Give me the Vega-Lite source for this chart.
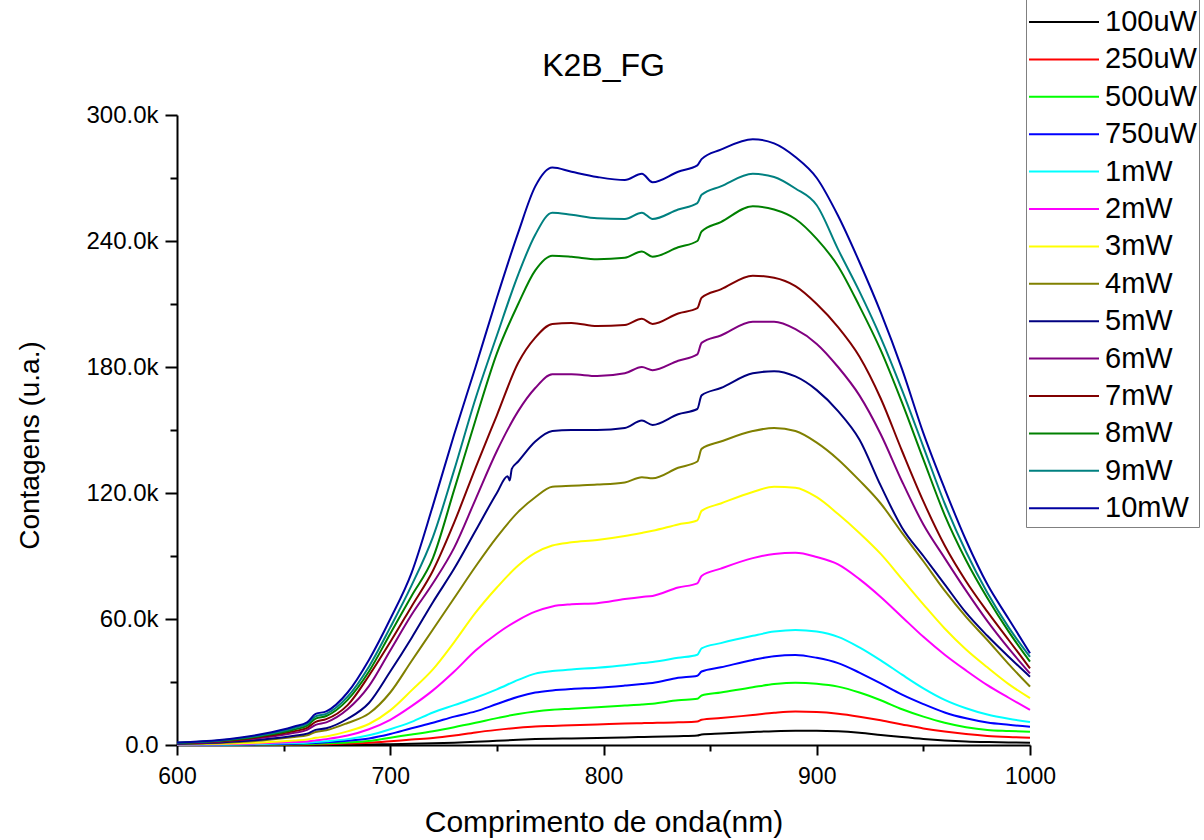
{
  "$schema": "https://vega.github.io/schema/vega-lite/v6.json",
  "width": 853,
  "height": 630,
  "autosize": {"type": "none"},
  "padding": {"left": 177, "top": 115, "right": 174, "bottom": 95},
  "background": "white",
  "config": {"view": {"stroke": null}, "font": "Liberation Sans"},
  "title": {"text": "K2B_FG", "fontSize": 32, "font": "Liberation Sans", "fontWeight": "normal", "color": "#000", "anchor": "middle", "frame": "group", "offset": -124, "baseline": "alphabetic"},
  "datasets": {
    "spectra": [
{"p":"100uW","nm":600,"k":0},{"p":"100uW","nm":620,"k":0},{"p":"100uW","nm":640,"k":0.02},{"p":"100uW","nm":655,"k":0.05},{"p":"100uW","nm":661,"k":0.07},{"p":"100uW","nm":665,"k":0.09},{"p":"100uW","nm":670,"k":0.1},{"p":"100uW","nm":680,"k":0.15},{"p":"100uW","nm":690,"k":0.25},{"p":"100uW","nm":700,"k":0.4},{"p":"100uW","nm":710,"k":0.6},{"p":"100uW","nm":720,"k":0.8},{"p":"100uW","nm":730,"k":1.1},{"p":"100uW","nm":740,"k":1.5},{"p":"100uW","nm":750,"k":2},{"p":"100uW","nm":760,"k":2.5},{"p":"100uW","nm":768,"k":2.8},{"p":"100uW","nm":776,"k":3},{"p":"100uW","nm":785,"k":3.1},{"p":"100uW","nm":797,"k":3.3},{"p":"100uW","nm":810,"k":3.6},{"p":"100uW","nm":818,"k":3.8},{"p":"100uW","nm":823,"k":3.9},{"p":"100uW","nm":835,"k":4.2},{"p":"100uW","nm":844,"k":4.5},{"p":"100uW","nm":846,"k":5},{"p":"100uW","nm":855,"k":5.5},{"p":"100uW","nm":870,"k":6.2},{"p":"100uW","nm":880,"k":6.6},{"p":"100uW","nm":890,"k":6.8},{"p":"100uW","nm":900,"k":6.8},{"p":"100uW","nm":910,"k":6.5},{"p":"100uW","nm":920,"k":5.8},{"p":"100uW","nm":930,"k":4.8},{"p":"100uW","nm":940,"k":3.8},{"p":"100uW","nm":950,"k":2.9},{"p":"100uW","nm":960,"k":2.2},{"p":"100uW","nm":970,"k":1.7},{"p":"100uW","nm":980,"k":1.4},{"p":"100uW","nm":990,"k":1.2},{"p":"100uW","nm":1000,"k":1.1},
{"p":"250uW","nm":600,"k":0},{"p":"250uW","nm":620,"k":0.05},{"p":"250uW","nm":640,"k":0.1},{"p":"250uW","nm":655,"k":0.2},{"p":"250uW","nm":661,"k":0.25},{"p":"250uW","nm":665,"k":0.3},{"p":"250uW","nm":670,"k":0.4},{"p":"250uW","nm":680,"k":0.7},{"p":"250uW","nm":690,"k":1.1},{"p":"250uW","nm":700,"k":1.8},{"p":"250uW","nm":710,"k":2.6},{"p":"250uW","nm":720,"k":3.3},{"p":"250uW","nm":730,"k":4.5},{"p":"250uW","nm":740,"k":6},{"p":"250uW","nm":750,"k":7.2},{"p":"250uW","nm":760,"k":8.2},{"p":"250uW","nm":768,"k":8.8},{"p":"250uW","nm":776,"k":9.1},{"p":"250uW","nm":785,"k":9.4},{"p":"250uW","nm":797,"k":9.8},{"p":"250uW","nm":810,"k":10.2},{"p":"250uW","nm":818,"k":10.4},{"p":"250uW","nm":823,"k":10.5},{"p":"250uW","nm":835,"k":10.8},{"p":"250uW","nm":844,"k":11.2},{"p":"250uW","nm":846,"k":12},{"p":"250uW","nm":855,"k":12.8},{"p":"250uW","nm":870,"k":14.3},{"p":"250uW","nm":880,"k":15.3},{"p":"250uW","nm":890,"k":15.9},{"p":"250uW","nm":900,"k":15.7},{"p":"250uW","nm":910,"k":14.9},{"p":"250uW","nm":920,"k":13.5},{"p":"250uW","nm":930,"k":11.8},{"p":"250uW","nm":940,"k":9.8},{"p":"250uW","nm":950,"k":7.9},{"p":"250uW","nm":960,"k":6.4},{"p":"250uW","nm":970,"k":5.2},{"p":"250uW","nm":980,"k":4.3},{"p":"250uW","nm":990,"k":3.8},{"p":"250uW","nm":1000,"k":3.5},
{"p":"500uW","nm":600,"k":0.05},{"p":"500uW","nm":620,"k":0.1},{"p":"500uW","nm":640,"k":0.2},{"p":"500uW","nm":655,"k":0.35},{"p":"500uW","nm":661,"k":0.45},{"p":"500uW","nm":665,"k":0.6},{"p":"500uW","nm":670,"k":0.8},{"p":"500uW","nm":680,"k":1.2},{"p":"500uW","nm":690,"k":1.9},{"p":"500uW","nm":700,"k":3.5},{"p":"500uW","nm":710,"k":5},{"p":"500uW","nm":720,"k":6.6},{"p":"500uW","nm":730,"k":8.5},{"p":"500uW","nm":740,"k":10.6},{"p":"500uW","nm":750,"k":12.8},{"p":"500uW","nm":760,"k":14.8},{"p":"500uW","nm":768,"k":16},{"p":"500uW","nm":776,"k":16.8},{"p":"500uW","nm":785,"k":17.3},{"p":"500uW","nm":797,"k":18},{"p":"500uW","nm":810,"k":18.8},{"p":"500uW","nm":818,"k":19.3},{"p":"500uW","nm":823,"k":19.7},{"p":"500uW","nm":835,"k":21.3},{"p":"500uW","nm":844,"k":22},{"p":"500uW","nm":846,"k":23.6},{"p":"500uW","nm":855,"k":25},{"p":"500uW","nm":870,"k":27.5},{"p":"500uW","nm":880,"k":29},{"p":"500uW","nm":890,"k":29.7},{"p":"500uW","nm":900,"k":29.2},{"p":"500uW","nm":910,"k":27.8},{"p":"500uW","nm":920,"k":25},{"p":"500uW","nm":930,"k":21.3},{"p":"500uW","nm":940,"k":17},{"p":"500uW","nm":950,"k":13.5},{"p":"500uW","nm":960,"k":10.6},{"p":"500uW","nm":970,"k":8.5},{"p":"500uW","nm":980,"k":7.2},{"p":"500uW","nm":990,"k":6.7},{"p":"500uW","nm":1000,"k":6.3},
{"p":"750uW","nm":600,"k":0.1},{"p":"750uW","nm":620,"k":0.15},{"p":"750uW","nm":640,"k":0.3},{"p":"750uW","nm":655,"k":0.6},{"p":"750uW","nm":661,"k":0.8},{"p":"750uW","nm":665,"k":1},{"p":"750uW","nm":670,"k":1.3},{"p":"750uW","nm":680,"k":2},{"p":"750uW","nm":690,"k":3.1},{"p":"750uW","nm":700,"k":5.2},{"p":"750uW","nm":710,"k":8},{"p":"750uW","nm":720,"k":10.6},{"p":"750uW","nm":730,"k":13.5},{"p":"750uW","nm":740,"k":16},{"p":"750uW","nm":750,"k":19.5},{"p":"750uW","nm":760,"k":23},{"p":"750uW","nm":768,"k":25},{"p":"750uW","nm":776,"k":26},{"p":"750uW","nm":785,"k":26.7},{"p":"750uW","nm":797,"k":27.3},{"p":"750uW","nm":810,"k":28.3},{"p":"750uW","nm":818,"k":29},{"p":"750uW","nm":823,"k":29.5},{"p":"750uW","nm":835,"k":32},{"p":"750uW","nm":844,"k":33},{"p":"750uW","nm":846,"k":35},{"p":"750uW","nm":855,"k":37},{"p":"750uW","nm":870,"k":40.5},{"p":"750uW","nm":880,"k":42.3},{"p":"750uW","nm":890,"k":42.9},{"p":"750uW","nm":900,"k":41.5},{"p":"750uW","nm":910,"k":39},{"p":"750uW","nm":920,"k":34.5},{"p":"750uW","nm":930,"k":29.3},{"p":"750uW","nm":940,"k":24},{"p":"750uW","nm":950,"k":19.5},{"p":"750uW","nm":960,"k":15.5},{"p":"750uW","nm":970,"k":12.7},{"p":"750uW","nm":980,"k":10.7},{"p":"750uW","nm":990,"k":9.6},{"p":"750uW","nm":1000,"k":8.7},
{"p":"1mW","nm":600,"k":0.1},{"p":"1mW","nm":620,"k":0.2},{"p":"1mW","nm":640,"k":0.5},{"p":"1mW","nm":655,"k":0.9},{"p":"1mW","nm":661,"k":1.1},{"p":"1mW","nm":665,"k":1.4},{"p":"1mW","nm":670,"k":1.8},{"p":"1mW","nm":680,"k":2.8},{"p":"1mW","nm":690,"k":4.6},{"p":"1mW","nm":700,"k":7.5},{"p":"1mW","nm":710,"k":11},{"p":"1mW","nm":720,"k":15.5},{"p":"1mW","nm":730,"k":19},{"p":"1mW","nm":740,"k":22.5},{"p":"1mW","nm":750,"k":26.5},{"p":"1mW","nm":760,"k":31},{"p":"1mW","nm":768,"k":34},{"p":"1mW","nm":776,"k":35.2},{"p":"1mW","nm":785,"k":36},{"p":"1mW","nm":797,"k":36.8},{"p":"1mW","nm":810,"k":38},{"p":"1mW","nm":818,"k":39},{"p":"1mW","nm":823,"k":39.5},{"p":"1mW","nm":835,"k":41.5},{"p":"1mW","nm":844,"k":43},{"p":"1mW","nm":846,"k":46},{"p":"1mW","nm":855,"k":48.5},{"p":"1mW","nm":870,"k":52},{"p":"1mW","nm":880,"k":54},{"p":"1mW","nm":890,"k":54.8},{"p":"1mW","nm":900,"k":54},{"p":"1mW","nm":910,"k":51.5},{"p":"1mW","nm":920,"k":46.5},{"p":"1mW","nm":930,"k":40.3},{"p":"1mW","nm":940,"k":33.5},{"p":"1mW","nm":950,"k":27},{"p":"1mW","nm":960,"k":21.5},{"p":"1mW","nm":970,"k":17.5},{"p":"1mW","nm":980,"k":14.5},{"p":"1mW","nm":990,"k":12.5},{"p":"1mW","nm":1000,"k":11},
{"p":"2mW","nm":600,"k":0.2},{"p":"2mW","nm":620,"k":0.4},{"p":"2mW","nm":640,"k":0.8},{"p":"2mW","nm":655,"k":1.4},{"p":"2mW","nm":661,"k":1.7},{"p":"2mW","nm":665,"k":2.2},{"p":"2mW","nm":670,"k":2.8},{"p":"2mW","nm":680,"k":4.5},{"p":"2mW","nm":690,"k":7.5},{"p":"2mW","nm":700,"k":12},{"p":"2mW","nm":710,"k":18.5},{"p":"2mW","nm":720,"k":26},{"p":"2mW","nm":730,"k":35},{"p":"2mW","nm":740,"k":45},{"p":"2mW","nm":750,"k":53},{"p":"2mW","nm":760,"k":59.5},{"p":"2mW","nm":768,"k":63.5},{"p":"2mW","nm":776,"k":66},{"p":"2mW","nm":785,"k":67},{"p":"2mW","nm":797,"k":67.5},{"p":"2mW","nm":810,"k":69.5},{"p":"2mW","nm":818,"k":70.5},{"p":"2mW","nm":823,"k":71},{"p":"2mW","nm":835,"k":75},{"p":"2mW","nm":844,"k":77},{"p":"2mW","nm":846,"k":80.5},{"p":"2mW","nm":855,"k":84},{"p":"2mW","nm":870,"k":89},{"p":"2mW","nm":880,"k":91},{"p":"2mW","nm":890,"k":91.5},{"p":"2mW","nm":900,"k":89.5},{"p":"2mW","nm":910,"k":86},{"p":"2mW","nm":920,"k":79},{"p":"2mW","nm":930,"k":70.5},{"p":"2mW","nm":940,"k":61},{"p":"2mW","nm":950,"k":51.5},{"p":"2mW","nm":960,"k":43},{"p":"2mW","nm":970,"k":35.5},{"p":"2mW","nm":980,"k":28.5},{"p":"2mW","nm":990,"k":22.5},{"p":"2mW","nm":1000,"k":16.7},
{"p":"3mW","nm":600,"k":0.3},{"p":"3mW","nm":620,"k":0.6},{"p":"3mW","nm":640,"k":1.2},{"p":"3mW","nm":655,"k":2.1},{"p":"3mW","nm":661,"k":2.6},{"p":"3mW","nm":665,"k":3.4},{"p":"3mW","nm":670,"k":4.1},{"p":"3mW","nm":680,"k":6.5},{"p":"3mW","nm":690,"k":10},{"p":"3mW","nm":700,"k":16.5},{"p":"3mW","nm":710,"k":26},{"p":"3mW","nm":720,"k":36},{"p":"3mW","nm":730,"k":49},{"p":"3mW","nm":740,"k":63},{"p":"3mW","nm":750,"k":75},{"p":"3mW","nm":760,"k":85.5},{"p":"3mW","nm":768,"k":91.5},{"p":"3mW","nm":776,"k":95},{"p":"3mW","nm":785,"k":96.5},{"p":"3mW","nm":797,"k":97.6},{"p":"3mW","nm":810,"k":99.5},{"p":"3mW","nm":818,"k":101},{"p":"3mW","nm":823,"k":102},{"p":"3mW","nm":835,"k":105},{"p":"3mW","nm":844,"k":107},{"p":"3mW","nm":846,"k":111.5},{"p":"3mW","nm":855,"k":115},{"p":"3mW","nm":870,"k":120.5},{"p":"3mW","nm":880,"k":123},{"p":"3mW","nm":890,"k":122.5},{"p":"3mW","nm":900,"k":118},{"p":"3mW","nm":910,"k":110},{"p":"3mW","nm":920,"k":101},{"p":"3mW","nm":930,"k":91},{"p":"3mW","nm":940,"k":79},{"p":"3mW","nm":950,"k":67},{"p":"3mW","nm":960,"k":55.5},{"p":"3mW","nm":970,"k":45.5},{"p":"3mW","nm":980,"k":37},{"p":"3mW","nm":990,"k":29},{"p":"3mW","nm":1000,"k":22.3},
{"p":"4mW","nm":600,"k":0.5},{"p":"4mW","nm":620,"k":1},{"p":"4mW","nm":640,"k":2.2},{"p":"4mW","nm":655,"k":3.8},{"p":"4mW","nm":661,"k":4.6},{"p":"4mW","nm":665,"k":6.2},{"p":"4mW","nm":670,"k":7},{"p":"4mW","nm":680,"k":10.5},{"p":"4mW","nm":690,"k":15},{"p":"4mW","nm":700,"k":25},{"p":"4mW","nm":710,"k":40},{"p":"4mW","nm":720,"k":55},{"p":"4mW","nm":730,"k":70},{"p":"4mW","nm":740,"k":85},{"p":"4mW","nm":750,"k":99},{"p":"4mW","nm":760,"k":111},{"p":"4mW","nm":768,"k":118},{"p":"4mW","nm":776,"k":123},{"p":"4mW","nm":785,"k":123.5},{"p":"4mW","nm":797,"k":124},{"p":"4mW","nm":810,"k":125},{"p":"4mW","nm":818,"k":127.5},{"p":"4mW","nm":823,"k":127},{"p":"4mW","nm":835,"k":132},{"p":"4mW","nm":844,"k":135},{"p":"4mW","nm":846,"k":141},{"p":"4mW","nm":855,"k":144.5},{"p":"4mW","nm":870,"k":149.5},{"p":"4mW","nm":880,"k":151},{"p":"4mW","nm":890,"k":149.5},{"p":"4mW","nm":900,"k":144},{"p":"4mW","nm":910,"k":136},{"p":"4mW","nm":920,"k":126},{"p":"4mW","nm":930,"k":115},{"p":"4mW","nm":940,"k":101},{"p":"4mW","nm":950,"k":87.5},{"p":"4mW","nm":960,"k":73.5},{"p":"4mW","nm":970,"k":61},{"p":"4mW","nm":980,"k":50},{"p":"4mW","nm":990,"k":38.5},{"p":"4mW","nm":1000,"k":27.8},
{"p":"5mW","nm":600,"k":0.6},{"p":"5mW","nm":620,"k":1.2},{"p":"5mW","nm":640,"k":2.6},{"p":"5mW","nm":655,"k":4.4},{"p":"5mW","nm":661,"k":5.4},{"p":"5mW","nm":665,"k":7.2},{"p":"5mW","nm":670,"k":8},{"p":"5mW","nm":680,"k":12.5},{"p":"5mW","nm":690,"k":20},{"p":"5mW","nm":700,"k":35},{"p":"5mW","nm":710,"k":51},{"p":"5mW","nm":720,"k":68},{"p":"5mW","nm":730,"k":84},{"p":"5mW","nm":740,"k":102},{"p":"5mW","nm":750,"k":120},{"p":"5mW","nm":755,"k":128},{"p":"5mW","nm":756,"k":126},{"p":"5mW","nm":757,"k":131.5},{"p":"5mW","nm":760,"k":135},{"p":"5mW","nm":768,"k":144.5},{"p":"5mW","nm":776,"k":149.5},{"p":"5mW","nm":785,"k":150},{"p":"5mW","nm":797,"k":150},{"p":"5mW","nm":810,"k":151},{"p":"5mW","nm":818,"k":154.5},{"p":"5mW","nm":823,"k":152.4},{"p":"5mW","nm":835,"k":157.5},{"p":"5mW","nm":844,"k":160},{"p":"5mW","nm":846,"k":166.5},{"p":"5mW","nm":855,"k":170},{"p":"5mW","nm":870,"k":177},{"p":"5mW","nm":880,"k":178},{"p":"5mW","nm":890,"k":175.5},{"p":"5mW","nm":900,"k":169},{"p":"5mW","nm":910,"k":159},{"p":"5mW","nm":920,"k":145.5},{"p":"5mW","nm":930,"k":123.5},{"p":"5mW","nm":940,"k":103.5},{"p":"5mW","nm":950,"k":90},{"p":"5mW","nm":960,"k":76.5},{"p":"5mW","nm":970,"k":63},{"p":"5mW","nm":980,"k":52},{"p":"5mW","nm":990,"k":42},{"p":"5mW","nm":1000,"k":32.5},
{"p":"6mW","nm":600,"k":0.8},{"p":"6mW","nm":620,"k":1.6},{"p":"6mW","nm":640,"k":3.4},{"p":"6mW","nm":655,"k":5.8},{"p":"6mW","nm":661,"k":7.2},{"p":"6mW","nm":665,"k":9.6},{"p":"6mW","nm":670,"k":10.8},{"p":"6mW","nm":680,"k":17},{"p":"6mW","nm":690,"k":28},{"p":"6mW","nm":700,"k":45},{"p":"6mW","nm":710,"k":62},{"p":"6mW","nm":720,"k":77},{"p":"6mW","nm":730,"k":94},{"p":"6mW","nm":740,"k":117},{"p":"6mW","nm":750,"k":140},{"p":"6mW","nm":760,"k":159},{"p":"6mW","nm":768,"k":170},{"p":"6mW","nm":776,"k":176.5},{"p":"6mW","nm":785,"k":176.5},{"p":"6mW","nm":797,"k":175.7},{"p":"6mW","nm":810,"k":177},{"p":"6mW","nm":818,"k":180},{"p":"6mW","nm":823,"k":178.5},{"p":"6mW","nm":835,"k":183},{"p":"6mW","nm":844,"k":186},{"p":"6mW","nm":846,"k":191.5},{"p":"6mW","nm":855,"k":195},{"p":"6mW","nm":870,"k":201.5},{"p":"6mW","nm":880,"k":201.5},{"p":"6mW","nm":890,"k":198},{"p":"6mW","nm":900,"k":191},{"p":"6mW","nm":910,"k":180},{"p":"6mW","nm":920,"k":166.5},{"p":"6mW","nm":930,"k":148},{"p":"6mW","nm":940,"k":125.5},{"p":"6mW","nm":950,"k":105},{"p":"6mW","nm":960,"k":89},{"p":"6mW","nm":970,"k":73.5},{"p":"6mW","nm":980,"k":59},{"p":"6mW","nm":990,"k":46},{"p":"6mW","nm":1000,"k":34.1},
{"p":"7mW","nm":600,"k":0.9},{"p":"7mW","nm":620,"k":1.8},{"p":"7mW","nm":640,"k":3.9},{"p":"7mW","nm":655,"k":6.6},{"p":"7mW","nm":661,"k":8.2},{"p":"7mW","nm":665,"k":11},{"p":"7mW","nm":670,"k":12.3},{"p":"7mW","nm":680,"k":19},{"p":"7mW","nm":690,"k":33},{"p":"7mW","nm":700,"k":49},{"p":"7mW","nm":710,"k":66},{"p":"7mW","nm":720,"k":83},{"p":"7mW","nm":730,"k":106},{"p":"7mW","nm":740,"k":132},{"p":"7mW","nm":750,"k":157},{"p":"7mW","nm":760,"k":182},{"p":"7mW","nm":768,"k":194},{"p":"7mW","nm":776,"k":200.5},{"p":"7mW","nm":785,"k":201},{"p":"7mW","nm":797,"k":199.5},{"p":"7mW","nm":810,"k":200},{"p":"7mW","nm":818,"k":203},{"p":"7mW","nm":823,"k":200.5},{"p":"7mW","nm":835,"k":205.5},{"p":"7mW","nm":844,"k":208},{"p":"7mW","nm":846,"k":213},{"p":"7mW","nm":855,"k":217},{"p":"7mW","nm":870,"k":223.5},{"p":"7mW","nm":880,"k":222.5},{"p":"7mW","nm":890,"k":218.5},{"p":"7mW","nm":900,"k":210},{"p":"7mW","nm":910,"k":199},{"p":"7mW","nm":920,"k":185},{"p":"7mW","nm":930,"k":165},{"p":"7mW","nm":940,"k":140},{"p":"7mW","nm":950,"k":116},{"p":"7mW","nm":960,"k":95},{"p":"7mW","nm":970,"k":78},{"p":"7mW","nm":980,"k":63.5},{"p":"7mW","nm":990,"k":50},{"p":"7mW","nm":1000,"k":36.5},
{"p":"8mW","nm":600,"k":1},{"p":"8mW","nm":620,"k":2},{"p":"8mW","nm":640,"k":4.4},{"p":"8mW","nm":655,"k":7.4},{"p":"8mW","nm":661,"k":9.2},{"p":"8mW","nm":665,"k":12.6},{"p":"8mW","nm":670,"k":13.8},{"p":"8mW","nm":680,"k":21.5},{"p":"8mW","nm":690,"k":35},{"p":"8mW","nm":700,"k":53},{"p":"8mW","nm":710,"k":71},{"p":"8mW","nm":720,"k":89},{"p":"8mW","nm":730,"k":121.6},{"p":"8mW","nm":740,"k":154.8},{"p":"8mW","nm":750,"k":186.5},{"p":"8mW","nm":760,"k":210},{"p":"8mW","nm":768,"k":226},{"p":"8mW","nm":776,"k":233},{"p":"8mW","nm":785,"k":232.5},{"p":"8mW","nm":797,"k":231.3},{"p":"8mW","nm":810,"k":232},{"p":"8mW","nm":818,"k":235},{"p":"8mW","nm":823,"k":232.5},{"p":"8mW","nm":835,"k":237},{"p":"8mW","nm":844,"k":240},{"p":"8mW","nm":846,"k":244.5},{"p":"8mW","nm":855,"k":249},{"p":"8mW","nm":870,"k":256.5},{"p":"8mW","nm":880,"k":255},{"p":"8mW","nm":890,"k":250.5},{"p":"8mW","nm":900,"k":241},{"p":"8mW","nm":910,"k":228},{"p":"8mW","nm":920,"k":209},{"p":"8mW","nm":930,"k":188},{"p":"8mW","nm":940,"k":163},{"p":"8mW","nm":950,"k":136},{"p":"8mW","nm":960,"k":109.5},{"p":"8mW","nm":970,"k":88},{"p":"8mW","nm":980,"k":70},{"p":"8mW","nm":990,"k":54},{"p":"8mW","nm":1000,"k":39.7},
{"p":"9mW","nm":600,"k":1.1},{"p":"9mW","nm":620,"k":2.2},{"p":"9mW","nm":640,"k":4.8},{"p":"9mW","nm":655,"k":8.1},{"p":"9mW","nm":661,"k":10},{"p":"9mW","nm":665,"k":13.6},{"p":"9mW","nm":670,"k":14.8},{"p":"9mW","nm":680,"k":23},{"p":"9mW","nm":690,"k":37.3},{"p":"9mW","nm":700,"k":56},{"p":"9mW","nm":710,"k":76},{"p":"9mW","nm":720,"k":99},{"p":"9mW","nm":730,"k":131},{"p":"9mW","nm":740,"k":165},{"p":"9mW","nm":750,"k":195},{"p":"9mW","nm":760,"k":224},{"p":"9mW","nm":768,"k":243},{"p":"9mW","nm":776,"k":253.5},{"p":"9mW","nm":785,"k":252.5},{"p":"9mW","nm":797,"k":250.8},{"p":"9mW","nm":810,"k":250.5},{"p":"9mW","nm":818,"k":253.5},{"p":"9mW","nm":823,"k":250.5},{"p":"9mW","nm":835,"k":255},{"p":"9mW","nm":844,"k":258},{"p":"9mW","nm":846,"k":262},{"p":"9mW","nm":855,"k":266},{"p":"9mW","nm":870,"k":272},{"p":"9mW","nm":880,"k":270.5},{"p":"9mW","nm":890,"k":265},{"p":"9mW","nm":900,"k":257},{"p":"9mW","nm":910,"k":236},{"p":"9mW","nm":920,"k":216},{"p":"9mW","nm":930,"k":194},{"p":"9mW","nm":940,"k":169},{"p":"9mW","nm":950,"k":142},{"p":"9mW","nm":960,"k":115},{"p":"9mW","nm":970,"k":92},{"p":"9mW","nm":980,"k":72.5},{"p":"9mW","nm":990,"k":56},{"p":"9mW","nm":1000,"k":42},
{"p":"10mW","nm":600,"k":1.2},{"p":"10mW","nm":620,"k":2.4},{"p":"10mW","nm":640,"k":5.2},{"p":"10mW","nm":655,"k":8.8},{"p":"10mW","nm":661,"k":10.8},{"p":"10mW","nm":665,"k":14.8},{"p":"10mW","nm":670,"k":16},{"p":"10mW","nm":680,"k":25},{"p":"10mW","nm":690,"k":40.5},{"p":"10mW","nm":700,"k":60},{"p":"10mW","nm":710,"k":82},{"p":"10mW","nm":720,"k":114},{"p":"10mW","nm":730,"k":148},{"p":"10mW","nm":740,"k":180},{"p":"10mW","nm":750,"k":213},{"p":"10mW","nm":760,"k":244},{"p":"10mW","nm":768,"k":266},{"p":"10mW","nm":776,"k":275},{"p":"10mW","nm":785,"k":273},{"p":"10mW","nm":797,"k":270.5},{"p":"10mW","nm":810,"k":269},{"p":"10mW","nm":818,"k":272},{"p":"10mW","nm":823,"k":268},{"p":"10mW","nm":835,"k":273},{"p":"10mW","nm":844,"k":276},{"p":"10mW","nm":846,"k":279},{"p":"10mW","nm":855,"k":283.5},{"p":"10mW","nm":870,"k":288.5},{"p":"10mW","nm":880,"k":286.5},{"p":"10mW","nm":890,"k":280},{"p":"10mW","nm":900,"k":270},{"p":"10mW","nm":910,"k":252},{"p":"10mW","nm":920,"k":230},{"p":"10mW","nm":930,"k":206},{"p":"10mW","nm":940,"k":179},{"p":"10mW","nm":950,"k":148.5},{"p":"10mW","nm":960,"k":122},{"p":"10mW","nm":970,"k":97.5},{"p":"10mW","nm":980,"k":76.5},{"p":"10mW","nm":990,"k":60},{"p":"10mW","nm":1000,"k":43.7}
    ]
  },
  "data": {"name": "spectra"},
  "mark": {"type": "line", "strokeWidth": 2, "interpolate": "monotone"},
  "encoding": {
    "x": {
      "field": "nm", "type": "quantitative",
      "scale": {"domain": [600, 1000], "nice": false, "zero": false},
      "axis": {
        "values": [600, 650, 700, 750, 800, 850, 900, 950, 1000],
        "format": "d",
        "labelExpr": "datum.value % 100 == 0 ? datum.label : ''",
        "labelFlush": false,
        "grid": false,
        "domainColor": "#000", "domainWidth": 2,
        "tickColor": "#000", "tickWidth": 2,
        "tickSize": {"condition": {"test": "datum.value % 100 == 0", "value": 10}, "value": 6},
        "labelFont": "Liberation Sans", "labelFontSize": 23, "labelColor": "#000", "labelPadding": 10, "labelOverlap": false,
        "title": "Comprimento de onda(nm)",
        "titleFont": "Liberation Sans", "titleFontSize": 30, "titleFontWeight": "normal", "titleColor": "#000",
        "titleX": 426.5, "titleY": 77, "titleBaseline": "middle", "titleAlign": "center"
      }
    },
    "y": {
      "field": "k", "type": "quantitative",
      "scale": {"domain": [0, 300], "nice": false},
      "axis": {
        "values": [0, 30, 60, 90, 120, 150, 180, 210, 240, 270, 300],
        "labelExpr": "datum.value % 60 == 0 ? (datum.value == 0 ? '0.0' : format(datum.value, '.1f') + 'k') : ''",
        "grid": false,
        "domainColor": "#000", "domainWidth": 2,
        "tickColor": "#000", "tickWidth": 2,
        "tickSize": {"condition": {"test": "datum.value % 60 == 0", "value": 12}, "value": 7},
        "labelFont": "Liberation Sans", "labelFontSize": 24, "labelColor": "#000", "labelPadding": 7, "labelOverlap": false,
        "title": "Contagens (u.a.)",
        "titleFont": "Liberation Sans", "titleFontSize": 28, "titleFontWeight": "normal", "titleColor": "#000",
        "titleX": -147, "titleY": 330, "titleAngle": 270, "titleBaseline": "middle", "titleAlign": "center"
      }
    },
    "color": {
      "field": "p", "type": "nominal",
      "scale": {
        "domain": ["100uW", "250uW", "500uW", "750uW", "1mW", "2mW", "3mW", "4mW", "5mW", "6mW", "7mW", "8mW", "9mW", "10mW"],
        "range": ["#000000", "#FF0000", "#00FF00", "#0000FF", "#00FFFF", "#FF00FF", "#FFFF00", "#808000", "#000080", "#800080", "#800000", "#008000", "#008080", "#0000A0"]
      },
      "legend": {
        "orient": "none", "legendX": 849, "legendY": -131, "direction": "vertical",
        "title": " ", "titleFontSize": 20, "titlePadding": 0,
        "padding": 2, "strokeColor": "#808080",
        "symbolType": "stroke", "symbolSize": 4900, "symbolStrokeWidth": 2,
        "clipHeight": 32, "rowPadding": 5.4,
        "labelFont": "Liberation Sans", "labelFontSize": 29, "labelColor": "#000", "labelOffset": 5, "labelLimit": 300
      }
    }
  }
}
